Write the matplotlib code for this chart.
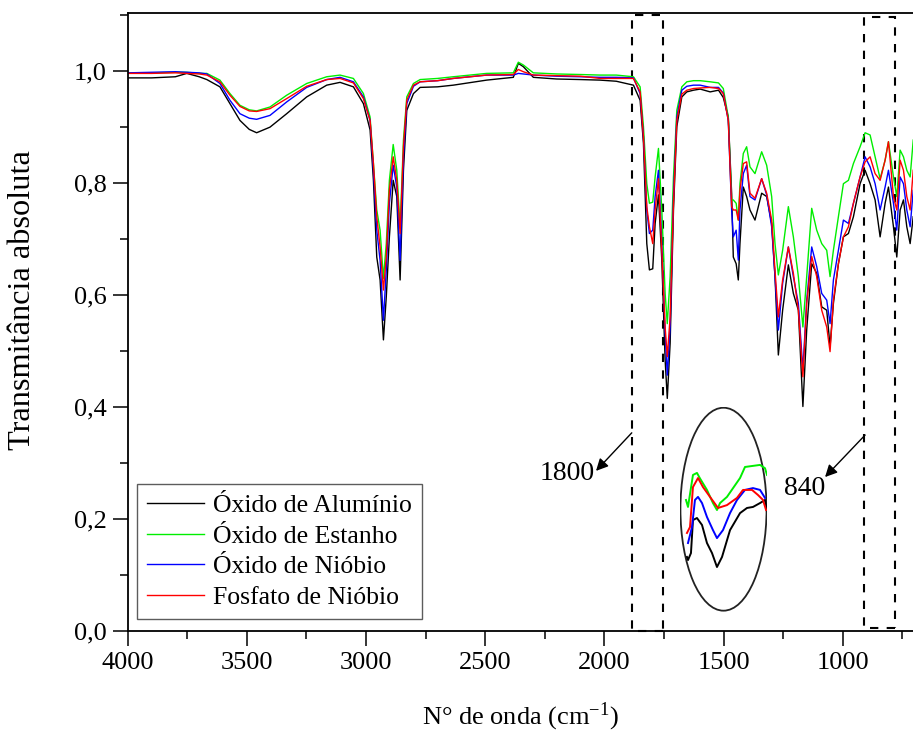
import matplotlib
matplotlib.use("Agg")
import matplotlib.pyplot as plt
from matplotlib.patches import Rectangle, Ellipse
from matplotlib.ticker import MultipleLocator, FuncFormatter

plt.rcParams['font.family'] = ['Liberation Serif', 'DejaVu Serif']
plt.rcParams['mathtext.fontset'] = 'stix'

# ---------------- data ----------------
wavenumber = [4000, 3900, 3800, 3752, 3700, 3668, 3613, 3571, 3529, 3490,
              3459, 3403, 3333, 3249, 3165, 3109, 3053, 3011, 2983, 2969,
              2955, 2941, 2927, 2915, 2902, 2886, 2871, 2857, 2843, 2829,
              2801, 2773, 2700, 2634, 2494, 2382, 2361, 2340, 2298, 2200,
              2100, 2018, 1950,
              1878, 1850, 1836, 1822, 1811, 1797, 1787, 1773, 1759, 1745,
              1736, 1724, 1710, 1696, 1675, 1654, 1626, 1598, 1556, 1521,
              1501, 1480, 1466, 1459, 1447, 1438, 1431, 1417, 1403, 1389,
              1368, 1340, 1319, 1298, 1284, 1270, 1252, 1228, 1207, 1186,
              1167, 1151, 1130, 1109, 1088, 1067, 1053, 1039, 1018, 997,
              976, 955, 927, 906, 885, 864, 843, 822, 808, 787,
              773, 759, 745, 731, 717, 704]

oxido_aluminio = [0.988, 0.988, 0.990, 0.996, 0.990, 0.985, 0.972, 0.942, 0.912, 0.896,
                  0.890, 0.900, 0.924, 0.954, 0.975, 0.980, 0.972, 0.942, 0.895, 0.805,
                  0.668, 0.627, 0.520, 0.597, 0.704, 0.805, 0.776, 0.627, 0.823, 0.930,
                  0.960, 0.971, 0.972, 0.975, 0.984, 0.989, 1.014, 1.008, 0.989, 0.986,
                  0.985, 0.984, 0.982,
                  0.975, 0.948, 0.871, 0.692, 0.645, 0.647, 0.728, 0.779, 0.6625, 0.484,
                  0.4155, 0.514, 0.752, 0.901, 0.954, 0.963, 0.966, 0.968, 0.963, 0.966,
                  0.953, 0.918, 0.782, 0.668, 0.656, 0.627, 0.692, 0.793, 0.776, 0.752,
                  0.734, 0.782, 0.776, 0.728, 0.633, 0.493, 0.573, 0.654, 0.603, 0.573,
                  0.401, 0.538, 0.656, 0.639, 0.579, 0.573, 0.508, 0.585, 0.656, 0.704,
                  0.710, 0.740, 0.799, 0.823, 0.799, 0.770, 0.704, 0.764, 0.793, 0.722,
                  0.668, 0.752, 0.770, 0.722, 0.692, 0.740]

oxido_estanho = [0.997, 0.997, 0.998, 0.998, 0.996, 0.996, 0.984, 0.960, 0.939, 0.931,
                 0.929, 0.936, 0.957, 0.978, 0.990, 0.993, 0.987, 0.960, 0.918, 0.835,
                 0.752, 0.716, 0.630, 0.692, 0.805, 0.869, 0.823, 0.720, 0.877, 0.954,
                 0.978, 0.985, 0.987, 0.990, 0.996, 0.997, 1.016, 1.011, 0.997, 0.995,
                 0.994, 0.993, 0.993,
                 0.990, 0.972, 0.901, 0.799, 0.764, 0.766, 0.811, 0.862, 0.752, 0.603,
                 0.549, 0.633, 0.811, 0.930, 0.972, 0.981, 0.983, 0.983, 0.981, 0.979,
                 0.969, 0.918, 0.770, 0.770, 0.764, 0.734, 0.799, 0.853, 0.865, 0.829,
                 0.817, 0.856, 0.832, 0.776, 0.692, 0.636, 0.680, 0.758, 0.704, 0.633,
                 0.543, 0.633, 0.755, 0.716, 0.692, 0.680, 0.633, 0.680, 0.740, 0.799,
                 0.805, 0.835, 0.865, 0.890, 0.886, 0.847, 0.808, 0.841, 0.874, 0.811,
                 0.776, 0.859, 0.847, 0.823, 0.811, 0.877]

oxido_niobio = [0.997, 0.998, 0.999, 0.998, 0.997, 0.995, 0.978, 0.948, 0.924, 0.916,
                0.914, 0.921, 0.945, 0.971, 0.985, 0.989, 0.981, 0.954, 0.912, 0.823,
                0.716, 0.662, 0.555, 0.645, 0.764, 0.832, 0.793, 0.662, 0.847, 0.942,
                0.973, 0.981, 0.983, 0.987, 0.993, 0.993, 0.996, 0.995, 0.993, 0.991,
                0.990, 0.989, 0.989,
                0.988, 0.960, 0.883, 0.752, 0.710, 0.716, 0.776, 0.823, 0.692, 0.532,
                0.457, 0.543, 0.776, 0.918, 0.966, 0.973, 0.975, 0.975, 0.971, 0.971,
                0.961, 0.912, 0.752, 0.704, 0.716, 0.6625, 0.752, 0.817, 0.832, 0.776,
                0.770, 0.808, 0.779, 0.722, 0.633, 0.5375, 0.621, 0.686, 0.633, 0.585,
                0.466, 0.591, 0.686, 0.651, 0.603, 0.591, 0.549, 0.627, 0.680, 0.734,
                0.728, 0.764, 0.811, 0.847, 0.829, 0.799, 0.752, 0.793, 0.823, 0.764,
                0.716, 0.811, 0.799, 0.752, 0.722, 0.787]

fosfato_niobio = [0.996, 0.996, 0.997, 0.996, 0.995, 0.993, 0.981, 0.957, 0.937, 0.929,
                  0.928, 0.933, 0.951, 0.973, 0.985, 0.987, 0.979, 0.951, 0.912, 0.835,
                  0.740, 0.686, 0.609, 0.669, 0.788, 0.847, 0.805, 0.710, 0.865, 0.948,
                  0.975, 0.981, 0.983, 0.987, 0.993, 0.994, 1.003, 0.999, 0.993, 0.992,
                  0.991, 0.987, 0.987,
                  0.987, 0.963, 0.883, 0.758, 0.722, 0.692, 0.752, 0.808, 0.680, 0.543,
                  0.490, 0.561, 0.764, 0.912, 0.959, 0.966, 0.969, 0.970, 0.971, 0.969,
                  0.960, 0.912, 0.758, 0.752, 0.752, 0.734, 0.787, 0.835, 0.838, 0.782,
                  0.773, 0.808, 0.782, 0.734, 0.644, 0.561, 0.627, 0.686, 0.639, 0.573,
                  0.454, 0.585, 0.669, 0.633, 0.573, 0.543, 0.499, 0.591, 0.656, 0.704,
                  0.722, 0.764, 0.811, 0.838, 0.847, 0.817, 0.805, 0.841, 0.874, 0.776,
                  0.752, 0.841, 0.823, 0.776, 0.752, 0.823]

series_labels = ["Óxido de Alumínio", "Óxido de Estanho", "Óxido de Nióbio", "Fosfato de Nióbio"]
series_colors = ["#000000", "#00ee00", "#0000ff", "#ff0000"]

# magnified detail shown inside the ellipse (relative units)
inset_al_x = [0.080, 0.092, 0.126, 0.149, 0.195, 0.253, 0.310, 0.368, 0.425, 0.483, 0.575, 0.690, 0.770, 0.839, 0.920, 0.977, 1.000]
inset_al_y = [0.267, 0.252, 0.286, 0.447, 0.457, 0.423, 0.335, 0.286, 0.218, 0.267, 0.398, 0.481, 0.506, 0.511, 0.530, 0.545, 0.496]
inset_sn_x = [0.069, 0.092, 0.149, 0.195, 0.230, 0.310, 0.379, 0.425, 0.460, 0.540, 0.610, 0.690, 0.747, 0.920, 0.977, 1.000]
inset_sn_y = [0.545, 0.511, 0.667, 0.677, 0.650, 0.594, 0.530, 0.496, 0.530, 0.560, 0.603, 0.652, 0.706, 0.716, 0.700, 0.667]
inset_nb_x = [0.092, 0.138, 0.172, 0.207, 0.253, 0.310, 0.379, 0.425, 0.494, 0.575, 0.655, 0.747, 0.839, 0.920, 0.977]
inset_nb_y = [0.335, 0.413, 0.545, 0.560, 0.530, 0.462, 0.398, 0.359, 0.398, 0.481, 0.545, 0.594, 0.603, 0.594, 0.555]
inset_fp_x = [0.080, 0.115, 0.149, 0.207, 0.264, 0.345, 0.437, 0.540, 0.655, 0.724, 0.828, 0.897, 0.954, 0.989]
inset_fp_y = [0.384, 0.413, 0.608, 0.652, 0.608, 0.560, 0.506, 0.520, 0.555, 0.594, 0.594, 0.569, 0.545, 0.496]

# ---------------- figure ----------------
W, H = 913, 731
fig = plt.figure(figsize=(W / 100, H / 100), dpi=100)
ax_w_px = W - 127.7
ax_h_px = 631 - 13.5
ax = fig.add_axes([127.7 / W, 1 - 631 / H, ax_w_px / W, ax_h_px / H])

all_series = [oxido_aluminio, oxido_estanho, oxido_niobio, fosfato_niobio]
for vals, lab, col in zip(all_series, series_labels, series_colors):
    ax.plot(wavenumber, vals, color=col, lw=1.0, label=lab)

ax.set_xlim(4000, 705)
ax.set_ylim(0, 1.103)
ax.xaxis.set_major_locator(MultipleLocator(500))
ax.xaxis.set_minor_locator(MultipleLocator(250))
ax.yaxis.set_major_locator(MultipleLocator(0.2))
ax.yaxis.set_minor_locator(MultipleLocator(0.1))
ax.yaxis.set_major_formatter(FuncFormatter(lambda v, p: f"{v:.1f}".replace(".", ",")))
ax.tick_params(which='major', direction='out', length=11, width=1.1, labelsize=19, pad=4)
ax.tick_params(which='minor', direction='out', length=6, width=1.1)
ax.spines['right'].set_visible(False)
for s in ['left', 'bottom', 'top']:
    ax.spines[s].set_linewidth(1.3)

ylab = ax.set_ylabel("Transmitância absoluta", fontsize=23.3)
ylab.set_verticalalignment('center')
ax.yaxis.set_label_coords((22 - 127.7) / ax_w_px, (631 - 300.5) / ax_h_px)
ax.set_xlabel("N° de onda (cm$^{\\mathregular{-1}}$)", fontsize=19, labelpad=19)

# dashed highlight boxes
ax.add_patch(Rectangle((1754, 0.0), 1884 - 1754, 1.10, fill=False, ls=(0, (4, 4)), lw=1.5, ec='black', clip_on=False))
ax.add_patch(Rectangle((780, 0.005), 909 - 780, 1.092, fill=False, ls=(0, (4, 4)), lw=1.5, ec='black', clip_on=False))

# annotations
ax.annotate("", xy=(2035, 0.286), xytext=(1885, 0.354),
            arrowprops=dict(arrowstyle='-|>', color='black', lw=1, mutation_scale=18, shrinkA=0, shrinkB=0))
ax.text(2158, 0.282, "1800", fontsize=20, ha='center', va='center', color='black')
ax.annotate("", xy=(1074, 0.275), xytext=(906, 0.35),
            arrowprops=dict(arrowstyle='-|>', color='black', lw=1, mutation_scale=18, shrinkA=0, shrinkB=0))
ax.text(1158, 0.255, "840", fontsize=20, ha='center', va='center')

leg = ax.legend(loc='lower left', bbox_to_anchor=(0.0115, 0.0194), borderaxespad=0,
                fontsize=18.5, frameon=True, fancybox=False, edgecolor='#333333',
                handlelength=2.2, handletextpad=0.35, labelspacing=0.29, borderpad=0.4)
leg.get_frame().set_linewidth(1.0)

# ellipse with magnified detail
ins = fig.add_axes([680 / W, 1 - 611.7 / H, 87 / W, 205 / H])
ins.set_xlim(0, 1)
ins.set_ylim(0, 1)
ins.axis('off')
ins.patch.set_alpha(0)
ins.add_patch(Ellipse((0.5, 0.5), 0.99, 0.99, fill=False, ec='#222222', lw=1.3))
ins.plot(inset_al_x, inset_al_y, color=series_colors[0], lw=1.4)
ins.plot(inset_sn_x, inset_sn_y, color=series_colors[1], lw=1.4)
ins.plot(inset_nb_x, inset_nb_y, color=series_colors[2], lw=1.4)
ins.plot(inset_fp_x, inset_fp_y, color=series_colors[3], lw=1.4)

fig.savefig("out.png", dpi=100)
